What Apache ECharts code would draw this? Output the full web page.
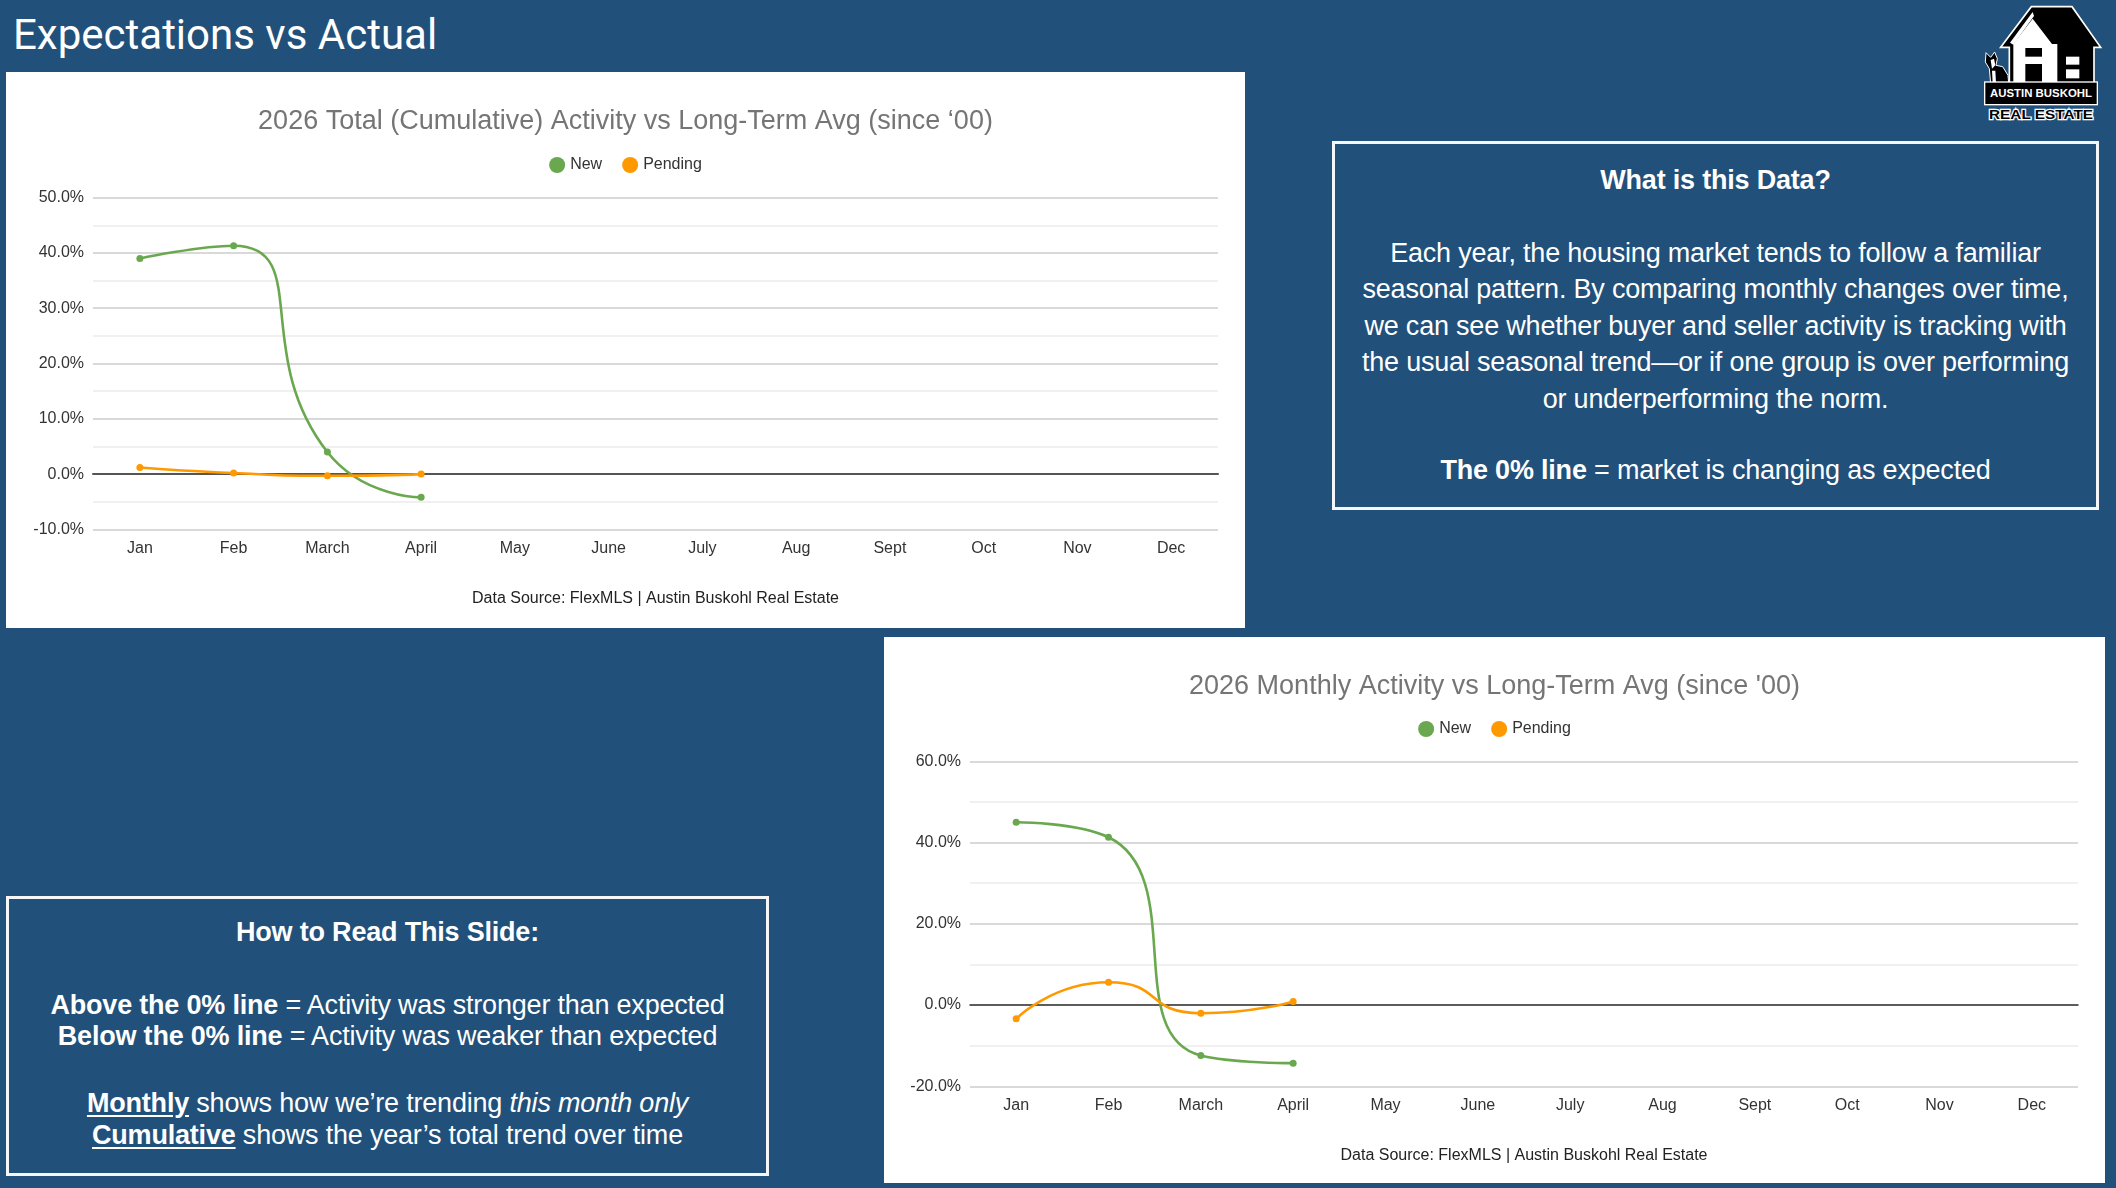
<!DOCTYPE html>
<html>
<head>
<meta charset="utf-8">
<script src="https://cdn.jsdelivr.net/npm/echarts@6/dist/echarts.min.js"></script>
<style>
html,body{margin:0;padding:0;width:2116px;height:1188px;overflow:hidden;background:#21507a;font-family:"Liberation Sans",Arial,sans-serif;color:#fff}
.abs{position:absolute}
#heading{left:13px;top:9px;font:400 42px/52px Roboto,sans-serif;white-space:nowrap}
.card{position:absolute;background:#fff}
.box{position:absolute;border:3px solid #f4f6f8;box-sizing:border-box}
.ln{position:absolute;left:0;right:0;text-align:center;font-size:27px;line-height:36px;white-space:nowrap;letter-spacing:-.2px}
u{text-underline-offset:3px}
</style>
</head>
<body>
<div id="heading" class="abs">Expectations vs Actual</div>

<div class="card" id="cumChart" style="left:6px;top:72px;width:1239px;height:556px"></div>
<div class="card" id="monChart" style="left:884px;top:637px;width:1221px;height:546px"></div>

<div class="box" style="left:1332px;top:141px;width:767px;height:369px">
  <div class="ln" style="top:18px"><b>What is this Data?</b></div>
  <div class="ln" style="top:91px">Each year, the housing market tends to follow a familiar</div>
  <div class="ln" style="top:127px">seasonal pattern. By comparing monthly changes over time,</div>
  <div class="ln" style="top:164px">we can see whether buyer and seller activity is tracking with</div>
  <div class="ln" style="top:200px">the usual seasonal trend—or if one group is over performing</div>
  <div class="ln" style="top:237px">or underperforming the norm.</div>
  <div class="ln" style="top:308px"><b>The 0% line</b> = market is changing as expected</div>
</div>

<div class="box" style="left:6px;top:896px;width:763px;height:280px">
  <div class="ln" style="top:15px"><b>How to Read This Slide:</b></div>
  <div class="ln" style="top:88px"><b>Above the 0% line</b> = Activity was stronger than expected</div>
  <div class="ln" style="top:119px"><b>Below the 0% line</b> = Activity was weaker than expected</div>
  <div class="ln" style="top:186px"><u><b>Monthly</b></u> shows how we’re trending <i>this month only</i></div>
  <div class="ln" style="top:218px"><u><b>Cumulative</b></u> shows the year’s total trend over time</div>
</div>

<svg class="abs" style="left:1960px;top:0" width="156" height="130" viewBox="0 0 468 390">
  <polygon points="122,142 214,20 336,20 422,142 402,142 402,250 148,250 148,142" fill="#000" stroke="#fff" stroke-width="5"/>
  <polygon points="160,246 160,132 218,56 276,132 292,132 292,246" fill="#fff"/>
  <polygon points="150,128 218,36 222,48 160,134" fill="#fff"/>
  <rect x="196" y="144" width="50" height="26" fill="#000"/>
  <rect x="196" y="192" width="50" height="54" fill="#000"/>
  <rect x="318" y="170" width="40" height="24" fill="#fff"/>
  <rect x="318" y="208" width="40" height="27" fill="#fff"/>
  <path d="M78,158 L92,172 L104,156 L112,176 L108,196 L128,200 L144,226 L146,250 L92,250 L88,206 L76,186 Z" fill="#000" stroke="#fff" stroke-width="3"/>
  <path d="M92,180 L102,176 L106,196 L96,206 Z M96,212 L106,212 L108,248 L98,248 Z" fill="#fff"/>
  <rect x="74" y="246" width="338" height="68" fill="#000" stroke="#fff" stroke-width="4"/>
  <text x="243" y="292" text-anchor="middle" font-family="Liberation Sans" font-weight="700" font-size="31" fill="#fff" textLength="306" lengthAdjust="spacingAndGlyphs">AUSTIN BUSKOHL</text>
  <text x="243" y="356" text-anchor="middle" font-family="Liberation Sans" font-weight="700" font-size="41" fill="#000" stroke="#fff" stroke-width="7" paint-order="stroke" textLength="312" lengthAdjust="spacingAndGlyphs">REAL ESTATE</text>
</svg>

<script>
const months = ['Jan','Feb','March','April','May','June','July','Aug','Sept','Oct','Nov','Dec'];
const seriesNames = ['New','Pending'];
const cumulativeNew = [39.0, 41.3, 4.0, -4.2];
const cumulativePending = [1.2, 0.2, -0.3, 0.0];
const monthlyNew = [45.0, 41.3, -12.4, -14.3];
const monthlyPending = [-3.4, 5.6, -2.0, 0.9];
const sourceNote = 'Data Source: FlexMLS | Austin Buskohl Real Estate';
const font = '"Liberation Sans", Arial, sans-serif';

function build(cfg){
  return {
    animation:false,
    backgroundColor:'#fff',
    color:['#6aa84f','#ff9900'],
    textStyle:{fontFamily:font},
    title:{text:cfg.title,left:'center',top:cfg.titleTop,
      textStyle:{fontFamily:font,fontSize:27,fontWeight:'normal',color:'#757575'}},
    legend:{top:cfg.legendTop,left:'center',icon:'circle',itemWidth:16,itemHeight:16,itemGap:20,
      data:seriesNames,textStyle:{fontFamily:font,fontSize:16,color:'#333'}},
    grid:Object.assign({containLabel:false},cfg.grid),
    xAxis:{type:'category',data:months,boundaryGap:true,
      name:sourceNote,nameLocation:'middle',nameGap:cfg.nameGap,
      nameTextStyle:{fontFamily:font,fontSize:16,color:'#222'},
      axisTick:{show:false},
      axisLine:{show:true,onZero:true,lineStyle:{color:cfg.zeroColor,width:cfg.zeroWidth}},
      axisLabel:{interval:0,margin:11,fontFamily:font,fontSize:16,color:'#333'}},
    yAxis:{type:'value',min:cfg.min,max:cfg.max,interval:cfg.interval,
      axisLine:{show:false},axisTick:{show:false},
      axisLabel:{margin:9,fontFamily:font,fontSize:16,color:'#333',formatter:v=>v.toFixed(1)+'%'},
      splitLine:{show:true,lineStyle:{color:'#cccccc',width:1.5}},
      minorTick:{show:false,splitNumber:2},
      minorSplitLine:{show:true,lineStyle:{color:'#ebebeb',width:1.5}}},
    series:[
      {name:seriesNames[0],type:'line',data:cfg.a,smooth:cfg.smooth,symbol:'circle',symbolSize:7,showSymbol:true,
       lineStyle:{width:2.6},z:3},
      {name:seriesNames[1],type:'line',data:cfg.b,smooth:cfg.smooth,symbol:'circle',symbolSize:7,showSymbol:true,
       lineStyle:{width:2.6},z:4}
    ]
  };
}
echarts.init(document.getElementById('cumChart')).setOption(build({
  title:'2026 Total (Cumulative) Activity vs Long-Term Avg (since ‘00)',titleTop:31,legendTop:80,
  grid:{left:87,right:27,top:125.6,bottom:98.6},nameGap:61,zeroColor:'#555',zeroWidth:2,
  min:-10,max:50,interval:10,a:cumulativeNew,b:cumulativePending,smooth:0.6
}));
echarts.init(document.getElementById('monChart')).setOption(build({
  title:'2026 Monthly Activity vs Long-Term Avg (since \'00)',titleTop:31,legendTop:79,
  grid:{left:86,right:27,top:124.3,bottom:96.7},nameGap:61,zeroColor:'#333',zeroWidth:1.5,
  min:-20,max:60,interval:20,a:monthlyNew,b:monthlyPending,smooth:0.6
}));
</script>
</body>
</html>
